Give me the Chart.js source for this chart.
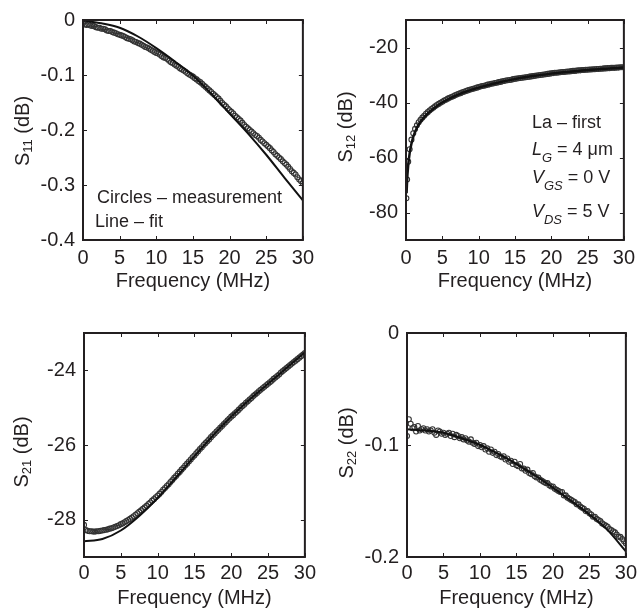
<!DOCTYPE html>
<html>
<head>
<meta charset="utf-8">
<script src="https://cdn.jsdelivr.net/npm/chart.js@4/dist/chart.umd.min.js"></script>
<style>
  html, body { margin: 0; padding: 0; background: #fff; }
  body { width: 641px; height: 615px; position: relative; overflow: hidden;
         font-family: "Liberation Sans", Arial, sans-serif; color: #231f20; }
  canvas { position: absolute; }
  .ytitle { position: absolute; font-size: 20px; line-height: 1; white-space: nowrap;
            transform: translate(-50%, -50%) rotate(-90deg); }
  .ytitle sub { font-size: 0.65em; vertical-align: -0.25em; line-height: 0; }
  .note { position: absolute; font-size: 18px; line-height: 18px; white-space: nowrap; }
  .note i sub { font-size: 0.72em; vertical-align: -0.55em; line-height: 0; }
</style>
</head>
<body>
<canvas id="c11" width="320" height="300" style="left:0;top:0"></canvas>
<canvas id="c12" width="321" height="300" style="left:320px;top:0"></canvas>
<canvas id="c21" width="320" height="305" style="left:0;top:310px"></canvas>
<canvas id="c22" width="321" height="305" style="left:320px;top:310px"></canvas>

<div class="ytitle" style="left:22px;top:131px">S<sub>11</sub> (dB)</div>
<div class="ytitle" style="left:345px;top:127px">S<sub>12</sub> (dB)</div>
<div class="ytitle" style="left:21px;top:452px">S<sub>21</sub> (dB)</div>
<div class="ytitle" style="left:346px;top:443px">S<sub>22</sub> (dB)</div>

<div class="note" style="left:97px;top:188px">Circles – measurement</div>
<div class="note" style="left:95px;top:212px">Line – fit</div>

<div class="note" style="left:532px;top:113px">La – first</div>
<div class="note" style="left:532px;top:140px"><i>L<sub>G</sub></i> = 4 μm</div>
<div class="note" style="left:532px;top:168px"><i>V<sub>GS</sub></i> = 0 V</div>
<div class="note" style="left:532px;top:202px"><i>V<sub>DS</sub></i> = 5 V</div>

<script>
// measured frequency points (MHz), 0.25 MHz apart
const freqMeas = [
  0, 0.25, 0.5, 0.75, 1, 1.25, 1.5, 1.75, 2, 2.25, 2.5, 2.75, 3, 3.25, 3.5, 3.75, 4, 4.25, 4.5, 4.75, 5,
  5.25, 5.5, 5.75, 6, 6.25, 6.5, 6.75, 7, 7.25, 7.5, 7.75, 8, 8.25, 8.5, 8.75, 9, 9.25, 9.5, 9.75, 10,
  10.25, 10.5, 10.75, 11, 11.25, 11.5, 11.75, 12, 12.25, 12.5, 12.75, 13, 13.25, 13.5, 13.75, 14, 14.25, 14.5, 14.75, 15,
  15.25, 15.5, 15.75, 16, 16.25, 16.5, 16.75, 17, 17.25, 17.5, 17.75, 18, 18.25, 18.5, 18.75, 19, 19.25, 19.5, 19.75, 20,
  20.25, 20.5, 20.75, 21, 21.25, 21.5, 21.75, 22, 22.25, 22.5, 22.75, 23, 23.25, 23.5, 23.75, 24, 24.25, 24.5, 24.75, 25,
  25.25, 25.5, 25.75, 26, 26.25, 26.5, 26.75, 27, 27.25, 27.5, 27.75, 28, 28.25, 28.5, 28.75, 29, 29.25, 29.5, 29.75, 30];
// S12 low-end points, then the same grid from 1 MHz on
const freqS12Low = [0.05, 0.15, 0.3, 0.5, 0.75];
const freqS12 = freqS12Low.concat(freqMeas.slice(4));
const freqFit = [0, 2.5, 5, 7.5, 10, 12.5, 15, 17.5, 20, 22.5, 25, 27.5, 30];
const freqFitS12 = [0.08, 0.15, 0.3, 0.5, 0.75, 1, 1.5, 2, 3, 4, 5, 7.5, 10, 12.5, 15, 17.5, 20, 22.5, 25, 27.5, 30];

// tick values
const xTicks = [0, 5, 10, 15, 20, 25, 30];
const s11Ticks = [0, -0.1, -0.2, -0.3, -0.4];
const s12Ticks = [-20, -40, -60, -80];
const s21Ticks = [-24, -26, -28];
const s22Ticks = [0, -0.1, -0.2];

// S11 (dB)
const s11Meas = [
  -0.006, -0.008, -0.009, -0.008, -0.010, -0.011, -0.011, -0.013, -0.014, -0.014, -0.016, -0.016, -0.017, -0.019, -0.020, -0.020, -0.022, -0.023, -0.024, -0.026, -0.027,
  -0.028, -0.029, -0.031, -0.033, -0.034, -0.035, -0.037, -0.039, -0.040, -0.042, -0.043, -0.045, -0.047, -0.049, -0.050, -0.052, -0.054, -0.056, -0.058, -0.060,
  -0.061, -0.063, -0.066, -0.068, -0.069, -0.071, -0.074, -0.077, -0.078, -0.081, -0.083, -0.085, -0.088, -0.090, -0.092, -0.094, -0.097, -0.099, -0.101, -0.103,
  -0.106, -0.108, -0.111, -0.113, -0.116, -0.119, -0.122, -0.125, -0.128, -0.131, -0.134, -0.137, -0.140, -0.143, -0.147, -0.151, -0.154, -0.157, -0.161, -0.164,
  -0.167, -0.170, -0.174, -0.177, -0.180, -0.183, -0.187, -0.191, -0.194, -0.197, -0.200, -0.203, -0.206, -0.209, -0.211, -0.214, -0.218, -0.221, -0.224, -0.227,
  -0.230, -0.233, -0.237, -0.240, -0.244, -0.247, -0.250, -0.253, -0.257, -0.260, -0.263, -0.267, -0.271, -0.275, -0.278, -0.281, -0.286, -0.290, -0.293, -0.297];
const s11Fit = [-0.001, -0.006, -0.014, -0.030, -0.051, -0.075, -0.101, -0.134, -0.170, -0.206, -0.245, -0.287, -0.328];

// S12 (dB)
const s12Meas = [
  -74.8, -68.0, -61.5, -57.0, -53.5,
  -51.2, -49.6, -48.3, -47.2, -46.3, -45.5, -44.8, -44.1, -43.5, -42.9, -42.4, -41.9, -41.4, -40.9, -40.5, -40.1, -39.7,
  -39.3, -39.0, -38.6, -38.3, -38.0, -37.7, -37.4, -37.1, -36.8, -36.6, -36.3, -36.1, -35.8, -35.6, -35.4, -35.2, -35.0, -34.8, -34.6, -34.4,
  -34.2, -34.0, -33.9, -33.7, -33.5, -33.4, -33.2, -33.1, -32.9, -32.8, -32.6, -32.5, -32.3, -32.2, -32.0, -31.9, -31.8, -31.7, -31.5, -31.4,
  -31.3, -31.2, -31.1, -31.0, -30.9, -30.8, -30.7, -30.6, -30.5, -30.4, -30.3, -30.2, -30.1, -30.0, -29.9, -29.8, -29.7, -29.6, -29.5, -29.4,
  -29.3, -29.2, -29.2, -29.1, -29.0, -28.9, -28.9, -28.8, -28.7, -28.7, -28.6, -28.5, -28.5, -28.4, -28.3, -28.3, -28.2, -28.2, -28.1, -28.1,
  -28.0, -28.0, -27.9, -27.9, -27.8, -27.8, -27.7, -27.7, -27.6, -27.6, -27.5, -27.5, -27.4, -27.4, -27.4, -27.3, -27.3, -27.2, -27.2, -27.2];
const s12Fit = [-73.0, -68.5, -63.0, -58.5, -55.0, -52.5, -49.2, -47.0, -44.0, -41.8, -40.0, -36.8, -34.6,
  -32.9, -31.5, -30.4, -29.5, -28.8, -28.2, -27.7, -27.3];

// S21 (dB)
const s21Meas = [
  -28.14, -28.28, -28.30, -28.31, -28.31, -28.32, -28.32, -28.31, -28.31, -28.30, -28.29, -28.28, -28.27, -28.26, -28.24, -28.23, -28.21, -28.19, -28.17, -28.15, -28.12,
  -28.10, -28.07, -28.04, -28.01, -27.98, -27.94, -27.91, -27.87, -27.83, -27.79, -27.75, -27.71, -27.67, -27.63, -27.58, -27.54, -27.49, -27.45, -27.40, -27.36,
  -27.31, -27.26, -27.20, -27.15, -27.10, -27.05, -26.99, -26.94, -26.88, -26.83, -26.77, -26.72, -26.66, -26.61, -26.55, -26.50, -26.44, -26.39, -26.33, -26.28,
  -26.22, -26.17, -26.11, -26.06, -26.00, -25.95, -25.90, -25.85, -25.79, -25.74, -25.69, -25.64, -25.59, -25.54, -25.49, -25.44, -25.39, -25.34, -25.29, -25.24,
  -25.20, -25.15, -25.11, -25.06, -25.01, -24.96, -24.92, -24.87, -24.83, -24.78, -24.74, -24.69, -24.65, -24.61, -24.56, -24.52, -24.48, -24.44, -24.40, -24.36,
  -24.32, -24.28, -24.23, -24.19, -24.15, -24.11, -24.06, -24.02, -23.98, -23.94, -23.90, -23.86, -23.82, -23.78, -23.74, -23.70, -23.66, -23.62, -23.58, -23.54];
const s21Fit = [-28.58, -28.52, -28.29, -27.90, -27.42, -26.87, -26.30, -25.75, -25.24, -24.78, -24.36, -23.94, -23.52];

// S22 (dB)
const s22Meas = [
  -0.092, -0.077, -0.081, -0.085, -0.084, -0.088, -0.083, -0.087, -0.086, -0.085, -0.087, -0.086, -0.088, -0.087, -0.086, -0.089, -0.091, -0.087, -0.088, -0.090, -0.089,
  -0.091, -0.090, -0.089, -0.092, -0.090, -0.093, -0.091, -0.092, -0.094, -0.093, -0.095, -0.094, -0.096, -0.097, -0.095, -0.098, -0.099, -0.098, -0.101, -0.100,
  -0.102, -0.101, -0.104, -0.103, -0.106, -0.104, -0.107, -0.106, -0.109, -0.108, -0.110, -0.111, -0.110, -0.113, -0.112, -0.115, -0.114, -0.117, -0.115, -0.118,
  -0.119, -0.117, -0.121, -0.121, -0.123, -0.122, -0.125, -0.126, -0.125, -0.128, -0.129, -0.129, -0.131, -0.132, -0.133, -0.134, -0.134, -0.136, -0.137, -0.137,
  -0.139, -0.140, -0.141, -0.142, -0.142, -0.145, -0.145, -0.147, -0.148, -0.149, -0.150, -0.151, -0.153, -0.153, -0.155, -0.156, -0.157, -0.159, -0.159, -0.161,
  -0.162, -0.164, -0.164, -0.166, -0.167, -0.168, -0.170, -0.171, -0.172, -0.173, -0.175, -0.176, -0.177, -0.178, -0.180, -0.182, -0.182, -0.184, -0.186, -0.188];
const s22Fit = [-0.086, -0.087, -0.089, -0.094, -0.100, -0.108, -0.117, -0.127, -0.138, -0.150, -0.162, -0.176, -0.195];

const FONT = '"Liberation Sans", Arial, sans-serif';
const INK = '#231f20';

// boxed frame with inward ticks on all four sides
const frameTicks = {
  id: 'frameTicks',
  afterDraw(chart) {
    const { ctx, chartArea: a, scales: { x, y } } = chart;
    ctx.save();
    ctx.strokeStyle = INK;
    ctx.lineWidth = 1;
    ctx.beginPath();
    x.ticks.forEach(t => {
      const px = Math.round(x.getPixelForValue(t.value)) + 0.5;
      ctx.moveTo(px, a.bottom); ctx.lineTo(px, a.bottom - 4);
      ctx.moveTo(px, a.top); ctx.lineTo(px, a.top + 4);
    });
    y.ticks.forEach(t => {
      const py = Math.round(y.getPixelForValue(t.value)) + 0.5;
      ctx.moveTo(a.left, py); ctx.lineTo(a.left + 4, py);
      ctx.moveTo(a.right, py); ctx.lineTo(a.right - 4, py);
    });
    ctx.stroke();
    ctx.lineWidth = 2;
    ctx.strokeRect(a.left, a.top, a.right - a.left, a.bottom - a.top);
    ctx.restore();
  }
};

const pts = (xs, ys) => xs.map((v, i) => ({ x: v, y: ys[i] }));

function makeChart(id, o) {
  new Chart(document.getElementById(id), {
    type: 'scatter',
    data: {
      datasets: [
        { label: 'fit', data: pts(o.fx, o.fy), showLine: true, pointRadius: 0,
          borderColor: '#111', borderWidth: o.lw || 2, cubicInterpolationMode: 'monotone' },
        { label: 'measurement', data: pts(o.mx, o.my), showLine: false, pointStyle: 'circle',
          pointRadius: 2.5, borderWidth: 1.1, borderColor: '#333', backgroundColor: 'rgba(255,255,255,0)' }
      ]
    },
    options: {
      responsive: false,
      animation: false,
      events: [],
      layout: { autoPadding: false, padding: { top: o.top, right: o.right, left: 0, bottom: 0 } },
      plugins: { legend: { display: false }, tooltip: { enabled: false } },
      scales: {
        x: {
          type: 'linear', min: 0, max: 30,
          grid: { display: false, drawTicks: false }, border: { display: false },
          ticks: { padding: o.xpad, color: INK, font: { family: FONT, size: 20 }, maxRotation: 0 },
          afterBuildTicks: s => { s.ticks = xTicks.map(v => ({ value: v })); },
          title: { display: true, text: 'Frequency (MHz)', color: INK, font: { family: FONT, size: 20 },
                   padding: { top: 0, bottom: o.tpad } },
          afterFit: s => { s.height = o.xh; }
        },
        y: {
          min: o.ymin, max: o.ymax,
          grid: { display: false, drawTicks: false }, border: { display: false },
          ticks: { padding: 8, color: INK, font: { family: FONT, size: 20 } },
          afterBuildTicks: s => { s.ticks = o.yt.map(v => ({ value: v })); },
          afterFit: s => { s.width = o.yw; }
        }
      }
    },
    plugins: [frameTicks]
  });
}

makeChart('c11', { mx: freqMeas, my: s11Meas, fx: freqFit, fy: s11Fit, yt: s11Ticks,
  ymin: -0.4, ymax: 0, yw: 83, right: 11, top: 17, xh: 60, xpad: 6, tpad: 7 });
makeChart('c12', { mx: freqS12, my: s12Meas, fx: freqFitS12, fy: s12Fit, yt: s12Ticks, lw: 2.5,
  ymin: -90, ymax: -10, yw: 86, right: 10, top: 17, xh: 60, xpad: 6, tpad: 7 });
makeChart('c21', { mx: freqMeas, my: s21Meas, fx: freqFit, fy: s21Fit, yt: s21Ticks,
  ymin: -29, ymax: -23, yw: 84, right: 11, top: 23, xh: 58, xpad: 4, tpad: 5 });
makeChart('c22', { mx: freqMeas, my: s22Meas, fx: freqFit, fy: s22Fit, yt: s22Ticks,
  ymin: -0.2, ymax: 0, yw: 87, right: 8, top: 23, xh: 58, xpad: 4, tpad: 5 });
</script>
</body>
</html>
